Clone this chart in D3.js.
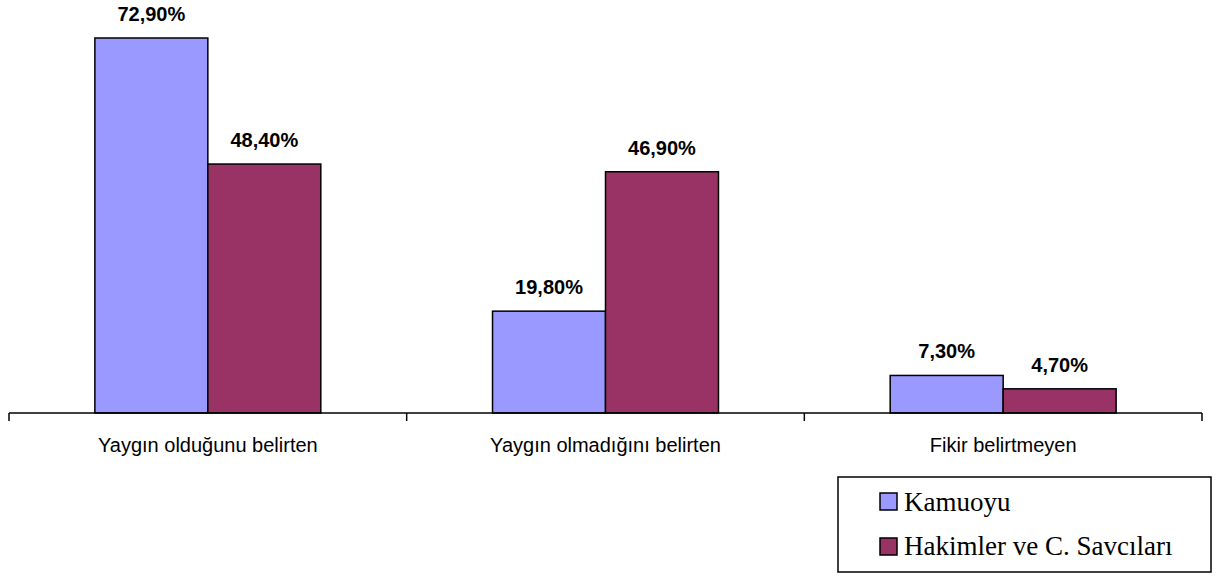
<!DOCTYPE html>
<html>
<head>
<meta charset="utf-8">
<script src="https://cdn.jsdelivr.net/npm/d3@7"></script>
<style>
  body { margin: 0; background: #fff; }
</style>
</head>
<body>
<div id="chart"></div>
<script>
"use strict";

// categories and series
let categories = ["Yaygın olduğunu belirten", "Yaygın olmadığını belirten", "Fikir belirtmeyen"];
let seriesNames = ["Kamuoyu", "Hakimler ve C. Savcıları"];
let kamuoyu = [72.9, 19.8, 7.3];
let hakimler = [48.4, 46.9, 4.7];
let seriesColors = ["#9999FF", "#993366"];

let svgWidth = 1216;
let svgHeight = 576;

let svg = d3.select("#chart")
    .append("svg")
    .attr("width", svgWidth)
    .attr("height", svgHeight);

// scales
let x0 = d3.scaleBand()
    .domain(categories)
    .range([9, 1202])
    .padding(0);

let x1 = d3.scaleBand()
    .domain(seriesNames)
    .range([0, x0.bandwidth()])
    .paddingInner(0)
    .paddingOuter(0.76);

let y = d3.scaleLinear()
    .domain([0, 80])
    .range([413, 1.5]);

let values = [kamuoyu, hakimler];

// bars
let groups = svg.selectAll(".grp")
    .data(categories)
    .enter()
    .append("g")
    .attr("transform", d => "translate(" + x0(d) + ",0)");

groups.selectAll("rect")
    .data((d, i) => seriesNames.map((s, j) => ({ s: s, v: values[j][i], c: seriesColors[j] })))
    .enter()
    .append("rect")
    .attr("x", d => x1(d.s))
    .attr("y", d => y(d.v))
    .attr("width", x1.bandwidth())
    .attr("height", d => y(0) - y(d.v))
    .attr("fill", d => d.c)
    .attr("stroke", "#000")
    .attr("stroke-width", 1.5);

// value labels
groups.selectAll(".lbl")
    .data((d, i) => seriesNames.map((s, j) => ({ s: s, v: values[j][i] })))
    .enter()
    .append("text")
    .attr("x", d => x1(d.s) + x1.bandwidth() / 2)
    .attr("y", d => y(d.v) - 17)
    .attr("text-anchor", "middle")
    .attr("font-family", "Liberation Sans, Arial, sans-serif")
    .attr("font-weight", "bold")
    .attr("font-size", "20px")
    .text(d => d.v.toFixed(2).replace(".", ",") + "%");

// x axis line
svg.append("line")
    .attr("x1", x0.range()[0])
    .attr("x2", x0.range()[1])
    .attr("y1", y(0))
    .attr("y2", y(0))
    .attr("stroke", "#000")
    .attr("stroke-width", 1.5);

// ticks on category boundaries
let edges = categories.map(c => x0(c)).concat([x0.range()[1]]);
svg.selectAll(".tick")
    .data(edges)
    .enter()
    .append("line")
    .attr("x1", d => d)
    .attr("x2", d => d)
    .attr("y1", y(0))
    .attr("y2", y(0) + 8)
    .attr("stroke", "#000")
    .attr("stroke-width", 1.5);

// category labels
svg.selectAll(".cat")
    .data(categories)
    .enter()
    .append("text")
    .attr("x", d => x0(d) + x0.bandwidth() / 2)
    .attr("y", 452)
    .attr("text-anchor", "middle")
    .attr("font-family", "Liberation Sans, Arial, sans-serif")
    .attr("font-size", "20px")
    .text(d => d);

// legend
let legendX = 838;
let legendY = 477;

svg.append("rect")
    .attr("x", legendX)
    .attr("y", legendY)
    .attr("width", 373)
    .attr("height", 95)
    .attr("fill", "none")
    .attr("stroke", "#000")
    .attr("stroke-width", 1.5);

seriesNames.forEach(function (s, j) {
    svg.append("rect")
        .attr("x", legendX + 42)
        .attr("y", legendY + 16 + j * 45)
        .attr("width", 17)
        .attr("height", 17)
        .attr("fill", seriesColors[j])
        .attr("stroke", "#000")
        .attr("stroke-width", 1.5);

    svg.append("text")
        .attr("x", legendX + 66)
        .attr("y", legendY + 34 + j * 44)
        .attr("font-family", "Liberation Serif, Times New Roman, serif")
        .attr("font-size", "27px")
        .text(s);
});
</script>
</body>
</html>
